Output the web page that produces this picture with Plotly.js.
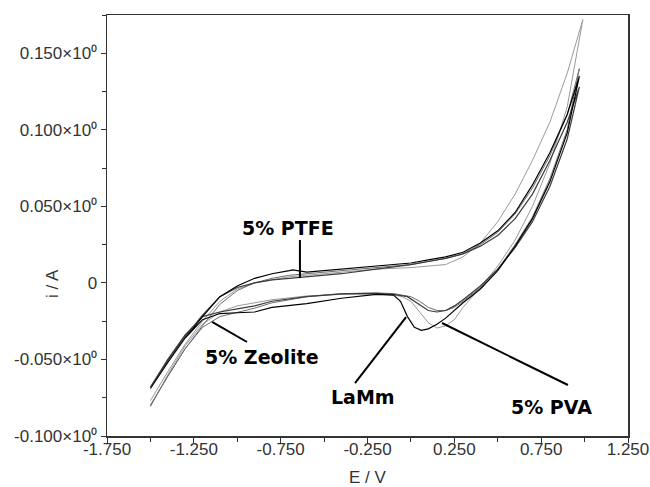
<!DOCTYPE html>
<html>
<head>
<meta charset="utf-8">
<script src="https://cdn.plot.ly/plotly-3.0.1.min.js"></script>
<style>html,body{margin:0;padding:0;background:#fff;}#chart{width:650px;height:487px;}</style>
</head>
<body>
<div id="chart"></div>
<script>
// Potential (V) and current (A) for each cyclic voltammogram: anodic sweep then cathodic sweep
const lamm_E = [-1.5,-1.4,-1.3,-1.2,-1.1,-1.0,-0.9,-0.8,-0.7,-0.68,-0.6,-0.4,-0.2,0.0,0.1,0.2,0.3,0.4,0.5,0.6,0.7,0.8,0.9,0.97,
                0.9,0.8,0.7,0.6,0.5,0.4,0.3,0.25,0.2,0.15,0.1,0.06,0.02,-0.02,-0.06,-0.1,-0.2,-0.4,-0.6,-0.8,-0.9,-1.0,-1.1,-1.2,-1.3,-1.4,-1.5];
const lamm_I = [-0.069,-0.052,-0.036,-0.022,-0.009,-0.002,0.003,0.006,0.008,0.0085,0.007,0.009,0.011,0.013,0.015,0.017,0.020,0.026,0.034,0.046,0.064,0.085,0.110,0.135,
                0.098,0.066,0.042,0.024,0.008,-0.004,-0.013,-0.018,-0.023,-0.027,-0.030,-0.031,-0.029,-0.022,-0.012,-0.008,-0.0075,-0.010,-0.0135,-0.016,-0.019,-0.0195,-0.020,-0.024,-0.036,-0.052,-0.069];

const ptfe_E = [-1.5,-1.4,-1.3,-1.2,-1.1,-1.0,-0.9,-0.8,-0.7,-0.6,-0.4,-0.2,0.0,0.1,0.2,0.3,0.4,0.5,0.6,0.7,0.8,0.9,0.97,
                0.9,0.8,0.7,0.6,0.5,0.4,0.3,0.25,0.2,0.15,0.1,0.06,0.02,-0.02,-0.1,-0.2,-0.4,-0.6,-0.8,-0.9,-1.0,-1.1,-1.2,-1.3,-1.4,-1.5];
const ptfe_I = [-0.068,-0.051,-0.035,-0.021,-0.009,-0.003,0.000,0.002,0.003,0.004,0.006,0.009,0.012,0.014,0.016,0.019,0.024,0.031,0.042,0.058,0.080,0.105,0.128,
                0.094,0.063,0.040,0.023,0.009,-0.002,-0.011,-0.015,-0.018,-0.019,-0.018,-0.015,-0.012,-0.009,-0.0075,-0.0068,-0.0072,-0.009,-0.012,-0.015,-0.017,-0.019,-0.022,-0.034,-0.050,-0.068];

const zeol_E = [-1.5,-1.4,-1.3,-1.2,-1.1,-1.0,-0.9,-0.8,-0.7,-0.6,-0.4,-0.2,0.0,0.1,0.2,0.3,0.4,0.5,0.6,0.7,0.8,0.9,0.97,
                0.9,0.8,0.7,0.6,0.5,0.4,0.3,0.25,0.2,0.15,0.1,0.05,0.0,-0.1,-0.2,-0.4,-0.6,-0.8,-0.9,-1.0,-1.1,-1.2,-1.3,-1.4,-1.5];
const zeol_I = [-0.080,-0.061,-0.043,-0.028,-0.014,-0.005,0.000,0.003,0.005,0.006,0.008,0.010,0.012,0.014,0.016,0.019,0.025,0.033,0.045,0.062,0.083,0.110,0.140,
                0.100,0.068,0.043,0.025,0.009,-0.003,-0.012,-0.016,-0.018,-0.018,-0.016,-0.012,-0.009,-0.007,-0.0065,-0.007,-0.009,-0.013,-0.0165,-0.019,-0.022,-0.029,-0.043,-0.061,-0.080];

const pva_E = [-1.5,-1.4,-1.3,-1.2,-1.1,-1.0,-0.9,-0.8,-0.7,-0.6,-0.4,-0.2,0.0,0.1,0.2,0.3,0.4,0.5,0.6,0.7,0.8,0.9,0.99,
               0.9,0.8,0.7,0.6,0.5,0.4,0.3,0.25,0.2,0.15,0.1,0.05,0.0,-0.05,-0.1,-0.2,-0.4,-0.6,-0.8,-1.0,-1.1,-1.2,-1.3,-1.4,-1.5];
const pva_I = [-0.077,-0.058,-0.040,-0.025,-0.012,-0.004,0.000,0.002,0.004,0.005,0.007,0.009,0.010,0.011,0.012,0.017,0.026,0.040,0.058,0.080,0.105,0.137,0.172,
               0.115,0.078,0.050,0.028,0.011,-0.003,-0.016,-0.024,-0.028,-0.0295,-0.026,-0.019,-0.012,-0.009,-0.0078,-0.0072,-0.0075,-0.0085,-0.011,-0.015,-0.019,-0.027,-0.041,-0.060,-0.081];

const seriesNames = ["LaMm","5% PTFE","5% Zeolite","5% PVA"];

const yTickVals = [-0.1,-0.05,0,0.05,0.1,0.15];
const yTickText = ["-0.100×10⁰","-0.050×10⁰","0","0.050×10⁰","0.100×10⁰","0.150×10⁰"];
const yMinorVals = [-0.075,-0.025,0.025,0.075,0.125,0.175];
const xTickVals = [-1.75,-1.25,-0.75,-0.25,0.25,0.75,1.25];
const xTickText = ["-1.750","-1.250","-0.750","-0.250","0.250","0.750","1.250"];
const xMinorVals = [-1.5,-1.0,-0.5,0.0,0.5,1.0];

// Annotation labels: [text, text x, text y, tail x, tail y, tip x, tip y]
const labels = [
  ["5% PTFE", -0.708, 0.0359, -0.639, 0.028, -0.639, 0.0032],
  ["5% Zeolite", -0.858, -0.0484, -0.944, -0.0386, -1.145, -0.0255],
  ["LaMm", -0.276, -0.0745, -0.322, -0.0654, -0.028, -0.0223],
  ["5% PVA", 0.812, -0.081, 0.904, -0.0667, 0.179, -0.0262]
];

const data = [
  {x: pva_E, y: pva_I, name: seriesNames[3], mode: "lines", line: {color: "#9a9a9a", width: 1}},
  {x: zeol_E, y: zeol_I, name: seriesNames[2], mode: "lines", line: {color: "#6e6e6e", width: 1}},
  {x: ptfe_E, y: ptfe_I, name: seriesNames[1], mode: "lines", line: {color: "#3c3c3c", width: 1.2}},
  {x: lamm_E, y: lamm_I, name: seriesNames[0], mode: "lines", line: {color: "#000000", width: 1.2}}
];

const axisFont = {family: "Liberation Sans, Arial, sans-serif", size: 17, color: "#333"};

const annotations = [];
const shapes = [];
labels.forEach(l => {
  annotations.push({x: l[1], y: l[2], xref: "x", yref: "y", text: l[0], showarrow: false,
    font: {family: "DejaVu Sans, sans-serif", size: 19, color: "#000", weight: "bold"}});
  shapes.push({type: "line", xref: "x", yref: "y", x0: l[3], y0: l[4], x1: l[5], y1: l[6],
    line: {color: "#000", width: 2}});
});
annotations.push({x: -0.106, y: 0.363, xref: "paper", yref: "paper", xanchor: "center", yanchor: "middle",
  text: "i / A", textangle: -90, showarrow: false, font: axisFont});

const layout = {
  width: 650, height: 487,
  margin: {l: 107, r: 22, t: 15, b: 51},
  paper_bgcolor: "#fff", plot_bgcolor: "#fff",
  showlegend: false,
  font: axisFont,
  xaxis: {
    range: [-1.75, 1.25], tickmode: "array", tickvals: xTickVals, ticktext: xTickText,
    ticks: "outside", ticklen: 5, tickcolor: "#333", tickwidth: 1, ticklabelstandoff: -8,
    minor: {tickmode: "array", tickvals: xMinorVals, ticks: "outside", ticklen: 4, tickcolor: "#333", showgrid: false},
    showline: true, linecolor: "#333", linewidth: 1.5, mirror: true, showgrid: false, zeroline: false,
    tickfont: axisFont, title: {text: "E / V", font: axisFont, standoff: 16}
  },
  yaxis: {
    range: [-0.1, 0.175], tickmode: "array", tickvals: yTickVals, ticktext: yTickText,
    ticks: "outside", ticklen: 5, tickcolor: "#333", tickwidth: 1,
    minor: {tickmode: "array", tickvals: yMinorVals, ticks: "outside", ticklen: 4, tickcolor: "#333", showgrid: false},
    showline: true, linecolor: "#333", linewidth: 1.5, mirror: true, showgrid: false, zeroline: false,
    tickfont: axisFont
  },
  annotations: annotations,
  shapes: shapes
};

Plotly.newPlot("chart", data, layout, {displayModeBar: false, staticPlot: true});
</script>
</body>
</html>
